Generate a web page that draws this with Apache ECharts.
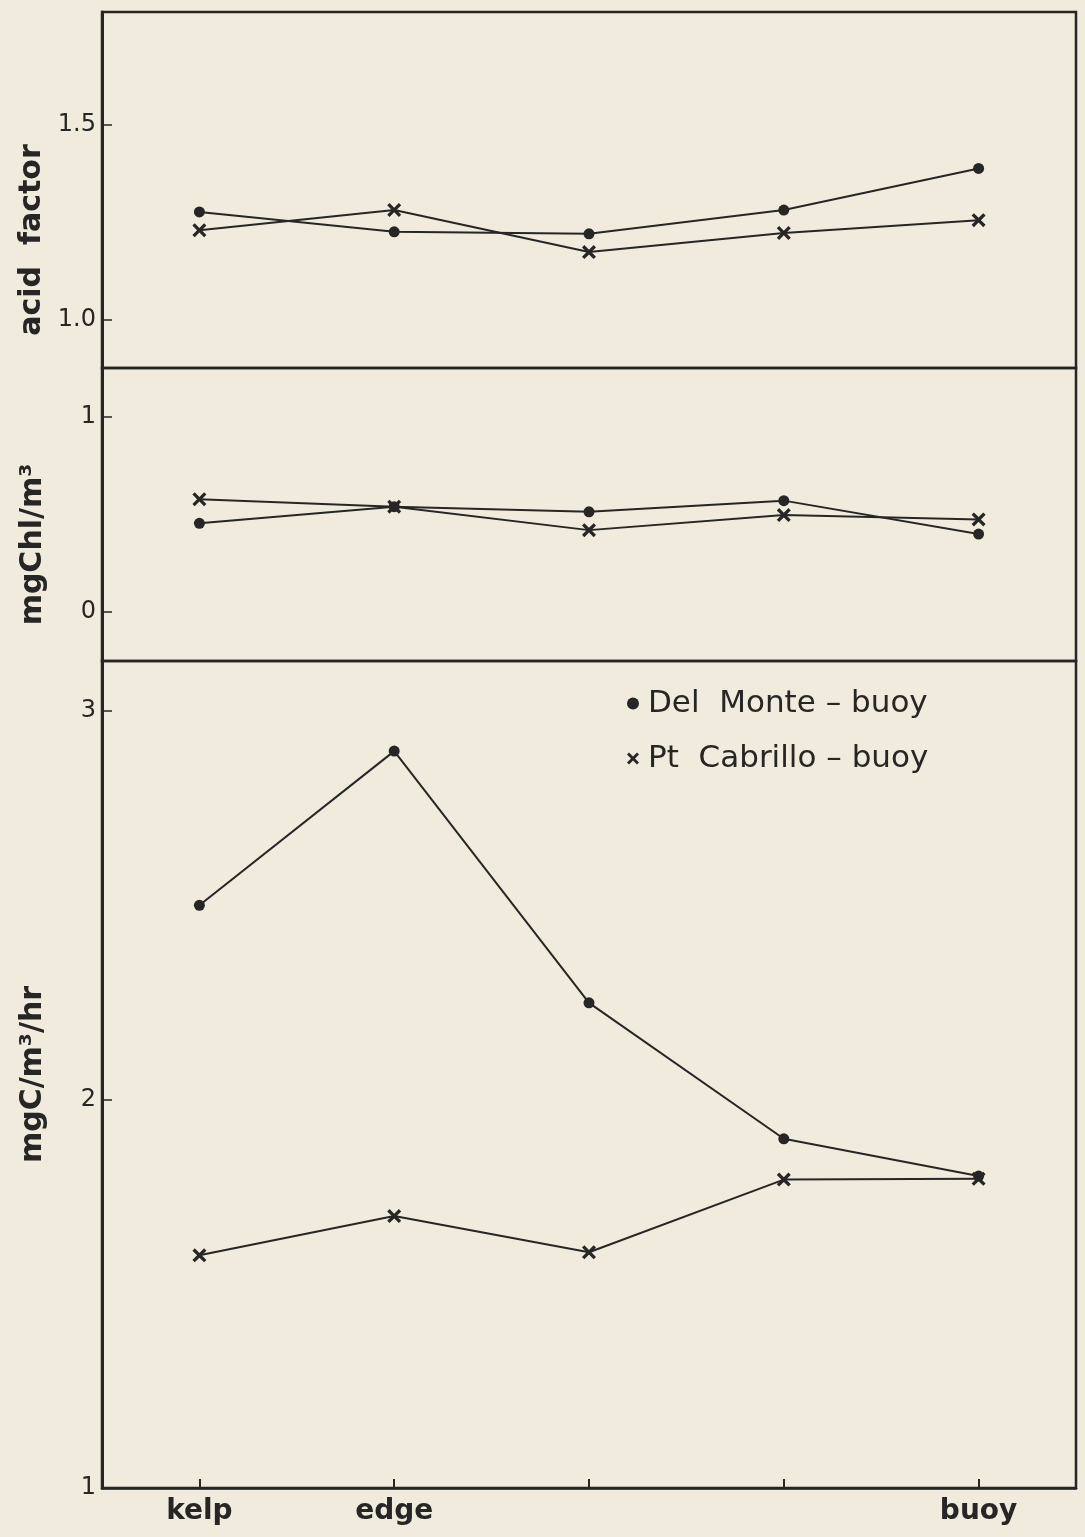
<!DOCTYPE html>
<html>
<head>
    <meta charset="UTF-8">
    <title>acid factor / chlorophyll / production</title>
    <script type="text/javascript" src="https://cdn.jsdelivr.net/npm/echarts@6/dist/echarts.min.js"></script>
    <style type="text/css">
        html, body { margin: 0; padding: 0; background: #f0ebdc; }
        #chart { width: 1085px; height: 1537px; }
    </style>
</head>
<body>
    <div id="chart"></div>
    <script>
    // stations along the transect
    var categories = ['kelp', 'edge', '', '', 'buoy'];

    // acid factor
    var acidDelMonte = [1.276, 1.225, 1.22, 1.281, 1.388];
    var acidCabrillo = [1.229, 1.281, 1.173, 1.222, 1.255];
    var acidTicks = [1.0, 1.5];

    // mgChl/m3
    var chlDelMonte = [0.455, 0.54, 0.514, 0.571, 0.40];
    var chlCabrillo = [0.578, 0.54, 0.42, 0.497, 0.475];
    var chlTicks = [0, 1];

    // mgC/m3/hr
    var prodDelMonte = [2.50, 2.897, 2.249, 1.899, 1.803];
    var prodCabrillo = [1.599, 1.70, 1.607, 1.794, 1.796];
    var prodTicks = [1, 2, 3];

    var nameDM = 'Del  Monte – buoy';
    var namePC = 'Pt  Cabrillo – buoy';

    var ink = '#262626';
    var font = 'DejaVu Sans';
    var crossPath = 'path://M0,2 L2,0 L6,4 L10,0 L12,2 L8,6 L12,10 L10,12 L6,8 L2,12 L0,10 L4,6 Z';

    var myChart = echarts.init(document.getElementById('chart'));

    function yAx(idx, min, max, ticks, name, shift, fmt) {
        return {
            type: 'value',
            gridIndex: idx,
            min: min,
            max: max,
            name: name,
            nameLocation: 'middle',
            nameGap: 54,
            nameTextStyle: {
                fontFamily: font, fontSize: 30, fontWeight: 'bold', color: ink,
                padding: [0, shift, 0, 0]
            },
            splitLine: { show: false },
            axisLine: { show: true, lineStyle: { color: ink, width: 3 } },
            axisTick: { show: true, inside: true, length: 10, customValues: ticks, lineStyle: { color: ink, width: 1.5 } },
            axisLabel: {
                customValues: ticks, margin: 6, fontFamily: font, fontSize: 24, color: ink,
                formatter: fmt
            }
        };
    }

    function xAx(idx, show) {
        return {
            type: 'category',
            gridIndex: idx,
            data: categories,
            boundaryGap: true,
            axisLine: { show: show, lineStyle: { color: ink, width: 2.5 } },
            axisTick: { show: show, inside: true, alignWithLabel: true, length: 9, lineStyle: { color: ink, width: 2 } },
            axisLabel: { show: show, margin: 10, fontFamily: font, fontSize: 28, fontWeight: 'bold', color: ink, interval: 0 },
            splitLine: { show: false }
        };
    }

    function line(name, idx, data, dot) {
        return {
            name: name,
            type: 'line',
            xAxisIndex: idx,
            yAxisIndex: idx,
            data: data,
            symbol: dot ? 'circle' : crossPath,
            symbolSize: dot ? 11 : 14,
            showAllSymbol: true,
            lineStyle: { color: ink, width: 2 },
            itemStyle: { color: ink },
            z: dot ? 3 : 2
        };
    }

    var grid = { left: 102, width: 974, show: true, borderColor: ink, borderWidth: 2.5, backgroundColor: 'transparent' };

    var option = {
        backgroundColor: '#f0ebdc',
        animation: false,
        grid: [
            Object.assign({}, grid, { top: 12, height: 356 }),
            Object.assign({}, grid, { top: 368, height: 293 }),
            Object.assign({}, grid, { top: 661, height: 827 })
        ],
        xAxis: [xAx(0, false), xAx(1, false), xAx(2, true)],
        yAxis: [
            yAx(0, 0.875, 1.79, acidTicks, 'acid  factor', 100, function (v) { return v.toFixed(1); }),
            yAx(1, -0.25, 1.25, chlTicks, 'mgChl/m³', 60, null),
            yAx(2, 1, 3.129, prodTicks, 'mgC/m³/hr', 0, null)
        ],
        legend: {
            left: 622,
            top: 683,
            orient: 'vertical',
            itemGap: 24,
            itemWidth: 12,
            itemHeight: 12,
            textStyle: { fontFamily: font, fontSize: 31, color: ink, padding: [0, 0, 0, 4] },
            data: [
                { name: nameDM, icon: 'circle' },
                { name: namePC, icon: crossPath }
            ]
        },
        series: [
            line(nameDM, 0, acidDelMonte, true),
            line(namePC, 0, acidCabrillo, false),
            line(nameDM, 1, chlDelMonte, true),
            line(namePC, 1, chlCabrillo, false),
            line(nameDM, 2, prodDelMonte, true),
            line(namePC, 2, prodCabrillo, false)
        ]
    };

    myChart.setOption(option);
    </script>
</body>
</html>
